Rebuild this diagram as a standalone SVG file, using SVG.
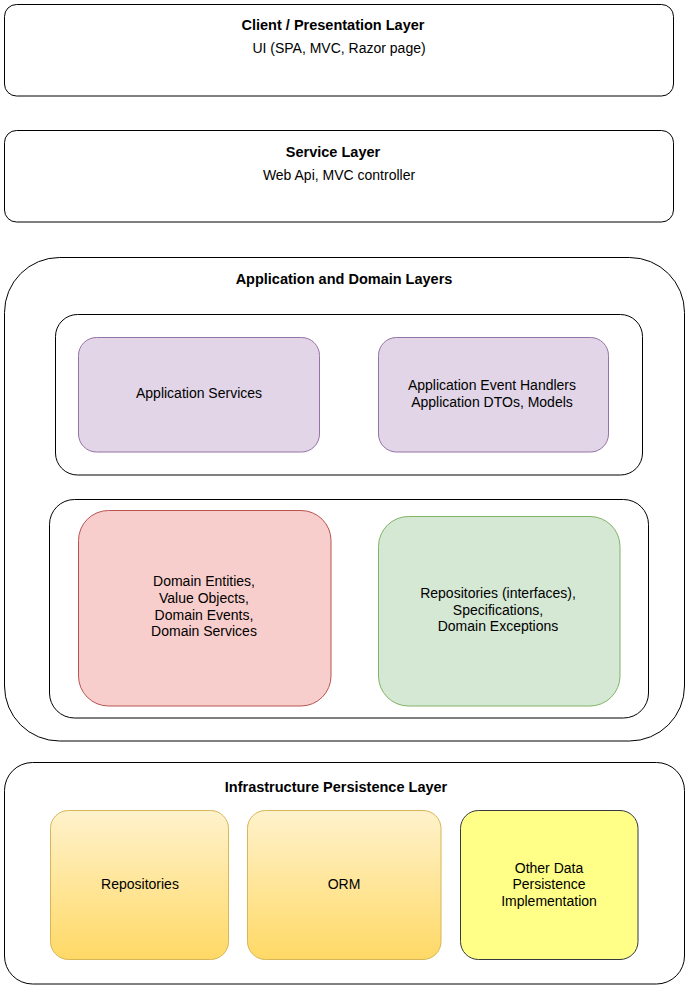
<svg xmlns="http://www.w3.org/2000/svg" width="690" height="991" viewBox="0 0 690 991">
<style>
text{font-family:"Liberation Sans",Arial,Helvetica,sans-serif;font-size:14px;fill:#000;text-anchor:middle}
.b{font-weight:bold;font-size:14.5px}
.c{fill:#fff;stroke:#000;stroke-width:1}
.p{fill:#e1d5e7;stroke:#9673a6}
.r{fill:#f8cecc;stroke:#b85450}
.g{fill:#d5e8d4;stroke:#82b366}
.y{fill:url(#yg);stroke:#d6b656}
.o{fill:#ffff88;stroke:#36393d}
</style>
<defs>
<linearGradient id="yg" x1="0" y1="0" x2="0" y2="1">
<stop offset="0" stop-color="#fff2cc"/>
<stop offset="1" stop-color="#ffd966"/>
</linearGradient>
</defs>
<rect width="690" height="991" fill="#fff"/>
<g id="client">
<rect class="c" x="4.5" y="4.5" width="669" height="91.5" rx="12"/>
<text class="b" x="333" y="30">Client / Presentation Layer</text>
<text x="339" y="53">UI (SPA, MVC, Razor page)</text>
</g>
<g id="service">
<rect class="c" x="4.5" y="130.5" width="669" height="91.5" rx="12"/>
<text class="b" x="333" y="157">Service Layer</text>
<text x="339" y="180">Web Api, MVC controller</text>
</g>
<g id="appdomain">
<rect class="c" x="4.5" y="257.5" width="680" height="483.5" rx="55"/>
<text class="b" x="344" y="284">Application and Domain Layers</text>
</g>
<g id="appgroup">
<rect class="c" x="55.5" y="314.5" width="587" height="160.5" rx="22"/>
</g>
<g id="appservices">
<rect class="p" x="78.5" y="337.5" width="241" height="114.5" rx="18"/>
<text x="199" y="398">Application Services</text>
</g>
<g id="apphandlers">
<rect class="p" x="378.5" y="337.5" width="230" height="114.5" rx="18"/>
<text x="492" y="390">Application Event Handlers</text>
<text x="492" y="407">Application DTOs, Models</text>
</g>
<g id="domaingroup">
<rect class="c" x="49.5" y="499.5" width="599" height="218.5" rx="25"/>
</g>
<g id="domainentities">
<rect class="r" x="78.5" y="510.5" width="252.5" height="195.5" rx="30"/>
<text x="204" y="586">Domain Entities,</text>
<text x="204" y="603">Value Objects,</text>
<text x="204" y="620">Domain Events,</text>
<text x="204" y="636">Domain Services</text>
</g>
<g id="repointerfaces">
<rect class="g" x="378.5" y="516.5" width="241.5" height="189.5" rx="30"/>
<text x="498" y="598">Repositories (interfaces),</text>
<text x="498" y="615">Specifications,</text>
<text x="498" y="631">Domain Exceptions</text>
</g>
<g id="infra">
<rect class="c" x="4.5" y="762.5" width="680" height="221.5" rx="28"/>
<text class="b" x="336" y="792">Infrastructure Persistence Layer</text>
</g>
<g id="repositories">
<rect class="y" x="50.5" y="810.5" width="178" height="149" rx="18"/>
<text x="140" y="889">Repositories</text>
</g>
<g id="orm">
<rect class="y" x="247.5" y="810.5" width="193.5" height="149" rx="18"/>
<text x="344" y="889">ORM</text>
</g>
<g id="otherdata">
<rect class="o" x="460.5" y="810.5" width="177.5" height="149" rx="18"/>
<text x="549" y="873">Other Data</text>
<text x="549" y="889">Persistence</text>
<text x="549" y="906">Implementation</text>
</g>
<g id="connectors"></g>
</svg>
